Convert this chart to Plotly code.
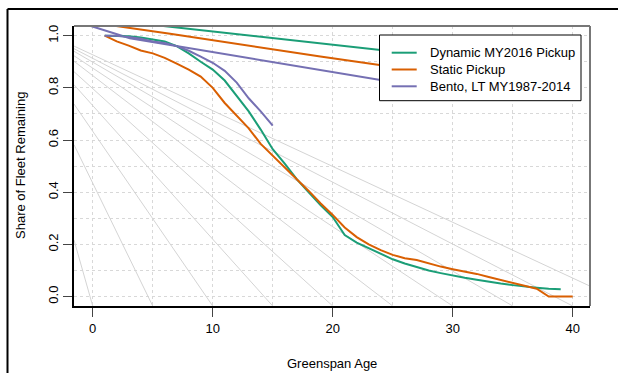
import plotly.graph_objects as go

# ---- data ----
ages_static = list(range(1, 41))
static_pickup = [1.0, 0.978, 0.962, 0.943, 0.932, 0.915, 0.893, 0.870, 0.843, 0.800,
                 0.742, 0.695, 0.645, 0.585, 0.540, 0.497, 0.452, 0.405, 0.357, 0.313,
                 0.265, 0.228, 0.200, 0.178, 0.160, 0.147, 0.140, 0.127, 0.115, 0.105,
                 0.097, 0.087, 0.075, 0.064, 0.052, 0.040, 0.030, 0.0, 0.0, 0.0]

ages_dynamic = list(range(1, 40))
dynamic_pickup = [1.0, 1.0, 0.998, 0.993, 0.986, 0.978, 0.960, 0.932, 0.900, 0.870,
                  0.828, 0.768, 0.710, 0.640, 0.565, 0.510, 0.450, 0.400, 0.350, 0.305,
                  0.236, 0.207, 0.185, 0.163, 0.143, 0.127, 0.113, 0.100, 0.090, 0.080,
                  0.072, 0.065, 0.057, 0.050, 0.044, 0.038, 0.034, 0.030, 0.028]

ages_bento = list(range(1, 16))
bento_lt = [1.0, 1.0, 0.995, 0.988, 0.978, 0.972, 0.960, 0.942, 0.920, 0.896,
            0.865, 0.820, 0.760, 0.710, 0.655]

series_names = ["Dynamic MY2016 Pickup", "Static Pickup", "Bento, LT MY1987-2014"]

# long sloped lines (their right ends are hidden by the legend)
long_dyn_x = [0, 6.45, 18.97, 23.98, 30]
long_dyn_y = [1.067, 1.034, 0.971, 0.945, 0.914]
long_sta_x = [0, 6.45, 18.97, 23.98, 30]
long_sta_y = [1.050, 1.007, 0.920, 0.888, 0.847]
long_ben_x = [-1.56, -0.22, 3.09, 6.45, 18.97, 23.98, 30]
long_ben_y = [1.050, 1.038, 0.990, 0.964, 0.869, 0.830, 0.784]

# grey reference lines: age where each meets the bottom, share where each meets the left edge
ref_end_age = [0, 5, 10, 15, 20, 25, 30, 35, 40, 45]
ref_left_share = [0.217, 0.582, 0.738, 0.812, 0.862, 0.902, 0.923, 0.940, 0.950, 0.960]

x_ticks = [0, 10, 20, 30, 40]
y_ticks = [0.0, 0.2, 0.4, 0.6, 0.8, 1.0]
y_tick_text = ["0.0", "0.2", "0.4", "0.6", "0.8", "1.0"]

XR = [-1.56, 41.44]
YR = [-0.036, 1.037]

GREEN = "#1B9E77"
ORANGE = "#D95F02"
PURPLE = "#7570B3"
COLORS = [GREEN, ORANGE, PURPLE]
FONT = "Liberation Sans, Arial, sans-serif"

fig = go.Figure()

for L, yl in zip(ref_end_age, ref_left_share):
    fig.add_trace(go.Scatter(x=[XR[0], L], y=[yl, YR[0]], mode="lines",
                             line=dict(color="#d4d4d4", width=1),
                             showlegend=False, hoverinfo="skip"))

for xs, ys, c in [(long_dyn_x, long_dyn_y, GREEN), (long_sta_x, long_sta_y, ORANGE),
                  (long_ben_x, long_ben_y, PURPLE)]:
    fig.add_trace(go.Scatter(x=xs, y=ys, mode="lines", line=dict(color=c, width=2),
                             showlegend=False, hoverinfo="skip"))

for xs, ys, nm, c in [(ages_dynamic, dynamic_pickup, series_names[0], GREEN),
                      (ages_static, static_pickup, series_names[1], ORANGE),
                      (ages_bento, bento_lt, series_names[2], PURPLE)]:
    fig.add_trace(go.Scatter(x=xs, y=ys, mode="lines", name=nm,
                             line=dict(color=c, width=2), showlegend=False))

L_, T_, W_, H_ = 74, 26, 516, 280
def px(xp):
    return (xp - L_) / W_
def py(yp):
    return (T_ + H_ - yp) / H_

shapes = [
    dict(type="line", xref="paper", yref="paper", x0=0, x1=1, y0=1, y1=1,
         line=dict(color="#777", width=2)),
    dict(type="line", xref="paper", yref="paper", x0=1, x1=1, y0=0, y1=1,
         line=dict(color="#777", width=2)),
    dict(type="line", xref="paper", yref="paper", x0=px(7.5), x1=px(640),
         y0=py(9), y1=py(9), line=dict(color="black", width=2)),
    dict(type="line", xref="paper", yref="paper", x0=px(7.5), x1=px(7.5),
         y0=py(9), y1=py(400), line=dict(color="black", width=2)),
    # legend box
    dict(type="rect", xref="paper", yref="paper", x0=px(379.5), x1=px(581),
         y0=py(100.7), y1=py(35), fillcolor="white", line=dict(color="black", width=1)),
]
annotations = [
    dict(text="Greenspan Age", xref="paper", yref="paper", x=0.5, y=py(363),
         xanchor="center", yanchor="middle", showarrow=False, font=dict(size=13)),
    dict(text="Share of Fleet Remaining", xref="paper", yref="paper", x=px(20),
         y=0.5, xanchor="center", yanchor="middle", textangle=-90,
         showarrow=False, font=dict(size=13)),
]
row_y = [52.7, 69.5, 86.3]
for nm, c, ry in zip(series_names, COLORS, row_y):
    shapes.append(dict(type="line", xref="paper", yref="paper", x0=px(391.7),
                       x1=px(416.7), y0=py(ry), y1=py(ry), line=dict(color=c, width=2)))
    annotations.append(dict(text=nm, xref="paper", yref="paper", x=px(428.3), y=py(ry),
                            xanchor="left", yanchor="middle", showarrow=False,
                            font=dict(size=13)))

fig.update_layout(
    width=618, height=373,
    margin=dict(l=74, r=618 - 74 - 516, t=26, b=373 - 26 - 280),
    paper_bgcolor="white", plot_bgcolor="white",
    font=dict(family=FONT, size=13, color="black"),
    showlegend=False,
    xaxis=dict(range=XR, tickmode="array", tickvals=x_ticks, ticks="outside",
               ticklen=9, tickcolor="#444", tickwidth=1, showline=True,
               linecolor="black", linewidth=2, zeroline=False,
               showgrid=True, gridcolor="#d8d8d8", griddash="dot", gridwidth=1,
               minor=dict(dtick=5, tick0=0, showgrid=True, gridcolor="#d8d8d8",
                          griddash="dot", ticks=""),
               tickfont=dict(size=13)),
    yaxis=dict(range=YR, tickmode="array", tickvals=y_ticks, ticktext=y_tick_text,
               ticks="outside", ticklen=9, tickcolor="#444", tickwidth=1,
               showline=True, linecolor="black", linewidth=2, zeroline=False,
               tickangle=-90, showgrid=True, gridcolor="#d8d8d8", griddash="dot",
               gridwidth=1,
               minor=dict(dtick=0.1, tick0=0, showgrid=True, gridcolor="#d8d8d8",
                          griddash="dot", ticks=""),
               tickfont=dict(size=13)),
    shapes=shapes,
    annotations=annotations,
)

fig.write_html("out.html", config={"displayModeBar": False, "staticPlot": True},
               post_script="document.body.style.margin='0px';document.body.style.overflow='hidden';")
